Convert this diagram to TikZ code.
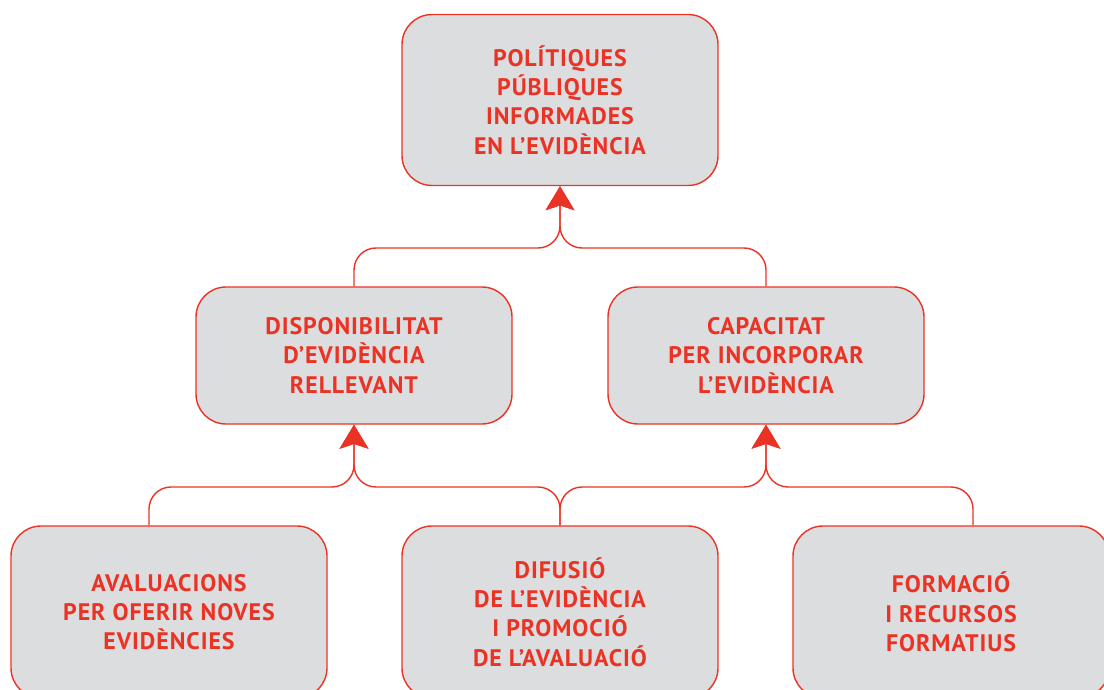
\documentclass[tikz,border=0pt]{standalone}
\usepackage{fontspec}
\setmainfont{PT Sans}[LetterSpace=4]
\usepackage{xcolor}
\usetikzlibrary{arrows.meta}
\definecolor{rojo}{HTML}{EA3325}
\definecolor{gris}{HTML}{DCDDDF}

\begin{document}
\begin{tikzpicture}[
        caixa/.style={draw=rojo, line width=1pt, fill=gris, rounded corners=0.75cm,
            minimum width=7.9cm, align=center, text=rojo,
            font=\fontsize{17}{20.8}\selectfont\bfseries},
        wire/.style={draw=rojo, line width=1pt, rounded corners=0.55cm},
        fletxa/.style={-{Stealth[length=0.6cm, width=0.72cm, inset=0.12cm]}}
    ]
        \useasboundingbox (0,0) rectangle (27.6,17.225);
        \begin{scope}
            \clip (0,0) rectangle (27.6,17.225);
            \node[caixa, minimum height=4.275cm] (top) at (14,14.725) {POLÍTIQUES\\PÚBLIQUES\\INFORMADES\\EN L’EVIDÈNCIA};
            \node[caixa, minimum height=3.425cm] (disp) at (8.85,8.3375) {DISPONIBILITAT\\D’EVIDÈNCIA\\RELLEVANT};
            \node[caixa, minimum height=3.425cm] (cap) at (19.15,8.3375) {CAPACITAT\\PER INCORPORAR\\L’EVIDÈNCIA};
            \node[caixa, minimum height=4.3cm] (aval) at (4.225,1.925) {AVALUACIONS\\PER OFERIR NOVES\\EVIDÈNCIES};
            \node[caixa, minimum height=4.3cm] (difu) at (14,1.925) {DIFUSIÓ\\DE L’EVIDÈNCIA\\I PROMOCIÓ\\DE L’AVALUACIÓ};
            \node[caixa, minimum height=4.3cm] (form) at (23.775,1.925) {FORMACIÓ\\I RECURSOS\\FORMATIUS};
        \end{scope}
        % junctions
        \coordinate (j1) at (14,11.025);
        \coordinate (j2) at (8.85,5.05);
        \coordinate (j3) at (19.15,5.05);
        % level 2 -> top
        \draw[wire, fletxa] (disp.north) |- (j1) -- (top.south);
        \draw[wire, fletxa] (cap.north) |- (j1) -- (top.south);
        % level 3 -> level 2
        \draw[wire, fletxa] ([xshift=-0.5cm]aval.north) |- (j2) -- (disp.south);
        \draw[wire, fletxa] (difu.north) |- (j2) -- (disp.south);
        \draw[wire, fletxa] (difu.north) |- (j3) -- (cap.south);
        \draw[wire, fletxa] ([xshift=0.55cm]form.north) |- (j3) -- (cap.south);
\end{tikzpicture}
\end{document}
